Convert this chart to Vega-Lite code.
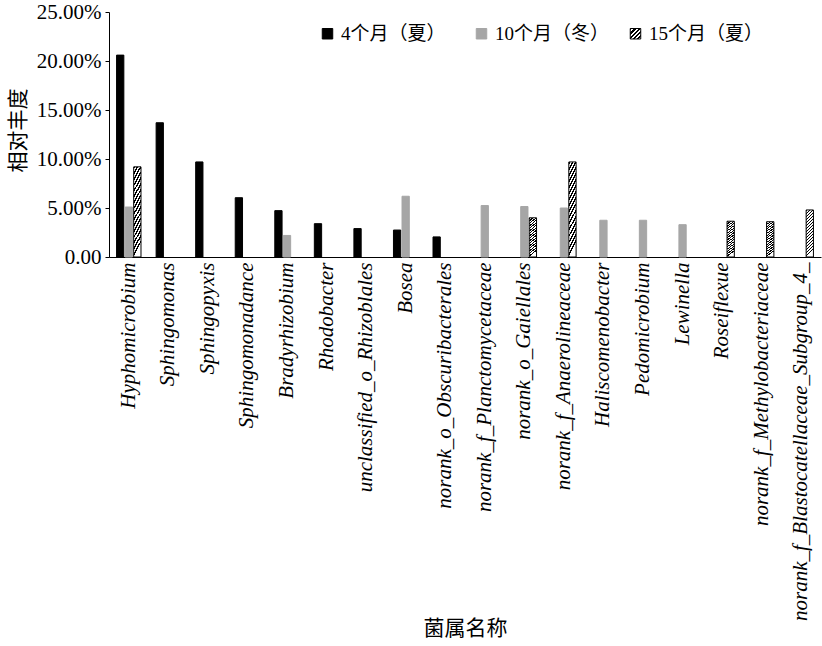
{
  "$schema": "https://vega.github.io/schema/vega-lite/v6.json",
  "autosize": "none",
  "width": 712,
  "height": 245,
  "padding": {"left": 109, "top": 12, "right": 1, "bottom": 389},
  "background": "white",
  "config": {
    "view": {"stroke": null},
    "axis": {"labelColor": "#000", "domainColor": "#000", "tickColor": "#000", "titleColor": "#000", "grid": false}
  },
  "data": {
    "values": [
      {"genus": "Hyphomicrobium", "period": "4个月（夏）", "value": 0.206},
      {"genus": "Hyphomicrobium", "period": "10个月（冬）", "value": 0.051},
      {"genus": "Hyphomicrobium", "period": "15个月（夏）", "value": 0.092},
      {"genus": "Sphingomonas", "period": "4个月（夏）", "value": 0.137},
      {"genus": "Sphingopyxis", "period": "4个月（夏）", "value": 0.097},
      {"genus": "Sphingomonadance", "period": "4个月（夏）", "value": 0.0605},
      {"genus": "Bradyrhizobium", "period": "4个月（夏）", "value": 0.0473},
      {"genus": "Bradyrhizobium", "period": "10个月（冬）", "value": 0.022},
      {"genus": "Rhodobacter", "period": "4个月（夏）", "value": 0.034},
      {"genus": "unclassified_o_Rhizoblales", "period": "4个月（夏）", "value": 0.029},
      {"genus": "Bosea", "period": "4个月（夏）", "value": 0.0275},
      {"genus": "Bosea", "period": "10个月（冬）", "value": 0.062},
      {"genus": "norank_o_Obscuribacterales", "period": "4个月（夏）", "value": 0.0205},
      {"genus": "norank_f_Planctomycetaceae", "period": "10个月（冬）", "value": 0.0525},
      {"genus": "norank_o_Gaiellales", "period": "10个月（冬）", "value": 0.0515},
      {"genus": "norank_o_Gaiellales", "period": "15个月（夏）", "value": 0.040},
      {"genus": "norank_f_Anaerolineaceae", "period": "10个月（冬）", "value": 0.050},
      {"genus": "norank_f_Anaerolineaceae", "period": "15个月（夏）", "value": 0.097},
      {"genus": "Haliscomenobacter", "period": "10个月（冬）", "value": 0.0375},
      {"genus": "Pedomicrobium", "period": "10个月（冬）", "value": 0.0375},
      {"genus": "Lewinella", "period": "10个月（冬）", "value": 0.033},
      {"genus": "Roseiflexue", "period": "15个月（夏）", "value": 0.0365},
      {"genus": "norank_f_Methylobacteriaceae", "period": "15个月（夏）", "value": 0.036},
      {"genus": "norank_f_Blastocatellaceae_Subgroup_4_", "period": "15个月（夏）", "value": 0.048}
    ]
  },
  "mark": {"type": "bar", "strokeWidth": 1},
  "encoding": {
    "x": {
      "field": "genus",
      "type": "nominal",
      "sort": ["Hyphomicrobium", "Sphingomonas", "Sphingopyxis", "Sphingomonadance", "Bradyrhizobium", "Rhodobacter", "unclassified_o_Rhizoblales", "Bosea", "norank_o_Obscuribacterales", "norank_f_Planctomycetaceae", "norank_o_Gaiellales", "norank_f_Anaerolineaceae", "Haliscomenobacter", "Pedomicrobium", "Lewinella", "Roseiflexue", "norank_f_Methylobacteriaceae", "norank_f_Blastocatellaceae_Subgroup_4_"],
      "scale": {"paddingInner": 0.35, "paddingOuter": 0.175},
      "axis": {
        "title": "菌属名称",
        "titleFont": "Noto Sans CJK SC",
        "titleFontSize": 21,
        "titleFontWeight": "normal",
        "titleX": 356,
        "titleY": 371,
        "titleBaseline": "middle",
        "labelAngle": -90,
        "labelFont": "Liberation Serif",
        "labelFontStyle": "italic",
        "labelFontSize": 21,
        "labelPadding": 5,
        "labelLimit": 0,
        "ticks": false,
        "labelOverlap": false
      }
    },
    "xOffset": {
      "field": "period",
      "type": "nominal",
      "sort": ["4个月（夏）", "10个月（冬）", "15个月（夏）"],
      "scale": {"paddingInner": 0.15, "paddingOuter": 0.075}
    },
    "y": {
      "field": "value",
      "type": "quantitative",
      "scale": {"domain": [0, 0.25], "nice": false},
      "axis": {
        "title": "相对丰度",
        "titleFont": "Noto Sans CJK SC",
        "titleFontSize": 21,
        "titleFontWeight": "normal",
        "titleX": -91,
        "titleY": 118,
        "titleBaseline": "middle",
        "titleAlign": "center",
        "values": [0, 0.05, 0.1, 0.15, 0.2, 0.25],
        "labelExpr": "datum.value === 0 ? '0.00' : format(datum.value, '.2%')",
        "labelFont": "Liberation Serif",
        "labelFontSize": 21,
        "labelPadding": 4,
        "tickSize": 4
      }
    },
    "fill": {
      "condition": {"test": "datum.period === '15个月（夏）'", "value": {"gradient": "linear", "x1": 0, "y1": 0, "x2": 0.15, "y2": 1, "stops": [
          {"offset": 0, "color": "#000"}, {"offset": 0.03, "color": "#000"}, {"offset": 0.03, "color": "#fff"}, {"offset": 0.0625, "color": "#fff"},
          {"offset": 0.0625, "color": "#000"}, {"offset": 0.0925, "color": "#000"}, {"offset": 0.0925, "color": "#fff"}, {"offset": 0.125, "color": "#fff"},
          {"offset": 0.125, "color": "#000"}, {"offset": 0.155, "color": "#000"}, {"offset": 0.155, "color": "#fff"}, {"offset": 0.1875, "color": "#fff"},
          {"offset": 0.1875, "color": "#000"}, {"offset": 0.2175, "color": "#000"}, {"offset": 0.2175, "color": "#fff"}, {"offset": 0.25, "color": "#fff"},
          {"offset": 0.25, "color": "#000"}, {"offset": 0.28, "color": "#000"}, {"offset": 0.28, "color": "#fff"}, {"offset": 0.3125, "color": "#fff"},
          {"offset": 0.3125, "color": "#000"}, {"offset": 0.3425, "color": "#000"}, {"offset": 0.3425, "color": "#fff"}, {"offset": 0.375, "color": "#fff"},
          {"offset": 0.375, "color": "#000"}, {"offset": 0.405, "color": "#000"}, {"offset": 0.405, "color": "#fff"}, {"offset": 0.4375, "color": "#fff"},
          {"offset": 0.4375, "color": "#000"}, {"offset": 0.4675, "color": "#000"}, {"offset": 0.4675, "color": "#fff"}, {"offset": 0.5, "color": "#fff"},
          {"offset": 0.5, "color": "#000"}, {"offset": 0.53, "color": "#000"}, {"offset": 0.53, "color": "#fff"}, {"offset": 0.5625, "color": "#fff"},
          {"offset": 0.5625, "color": "#000"}, {"offset": 0.5925, "color": "#000"}, {"offset": 0.5925, "color": "#fff"}, {"offset": 0.625, "color": "#fff"},
          {"offset": 0.625, "color": "#000"}, {"offset": 0.655, "color": "#000"}, {"offset": 0.655, "color": "#fff"}, {"offset": 0.6875, "color": "#fff"},
          {"offset": 0.6875, "color": "#000"}, {"offset": 0.7175, "color": "#000"}, {"offset": 0.7175, "color": "#fff"}, {"offset": 0.75, "color": "#fff"},
          {"offset": 0.75, "color": "#000"}, {"offset": 0.78, "color": "#000"}, {"offset": 0.78, "color": "#fff"}, {"offset": 0.8125, "color": "#fff"},
          {"offset": 0.8125, "color": "#000"}, {"offset": 0.8425, "color": "#000"}, {"offset": 0.8425, "color": "#fff"}, {"offset": 0.875, "color": "#fff"},
          {"offset": 0.875, "color": "#000"}, {"offset": 0.905, "color": "#000"}, {"offset": 0.905, "color": "#fff"}, {"offset": 0.9375, "color": "#fff"},
          {"offset": 0.9375, "color": "#000"}, {"offset": 0.9675, "color": "#000"}, {"offset": 0.9675, "color": "#fff"}, {"offset": 1, "color": "#fff"}
        ]}},
      "field": "period",
      "type": "nominal",
      "scale": {
        "domain": ["4个月（夏）", "10个月（冬）", "15个月（夏）"],
        "range": ["#000000", "#a6a6a6", {"expr": "{gradient: 'linear', x1: 0, y1: 0, x2: 1, y2: 1, stops: [{offset: 0, color: '#000'}, {offset: 0.1, color: '#000'}, {offset: 0.1, color: '#fff'}, {offset: 0.2, color: '#fff'}, {offset: 0.2, color: '#000'}, {offset: 0.3, color: '#000'}, {offset: 0.3, color: '#fff'}, {offset: 0.4, color: '#fff'}, {offset: 0.4, color: '#000'}, {offset: 0.5, color: '#000'}, {offset: 0.5, color: '#fff'}, {offset: 0.6, color: '#fff'}, {offset: 0.6, color: '#000'}, {offset: 0.7, color: '#000'}, {offset: 0.7, color: '#fff'}, {offset: 0.8, color: '#fff'}, {offset: 0.8, color: '#000'}, {offset: 0.9, color: '#000'}, {offset: 0.9, color: '#fff'}, {offset: 1, color: '#fff'}]}"}]
      },
      "legend": {
        "title": null,
        "orient": "none",
        "legendX": 209,
        "legendY": 12,
        "direction": "horizontal",
        "columns": 3,
        "gridAlign": "all",
        "columnPadding": 16,
        "symbolType": "square",
        "symbolSize": 110,
        "symbolStrokeWidth": 1,
        "labelFont": "Liberation Serif, Noto Sans CJK SC",
        "labelFontSize": 19,
        "labelColor": "#000",
        "labelOffset": 4,
        "labelLimit": 0,
        "padding": 0
      }
    },
    "stroke": {
      "field": "period",
      "type": "nominal",
      "scale": {"domain": ["4个月（夏）", "10个月（冬）", "15个月（夏）"], "range": ["#000000", "#a6a6a6", "#000000"]},
      "legend": null
    }
  }
}
